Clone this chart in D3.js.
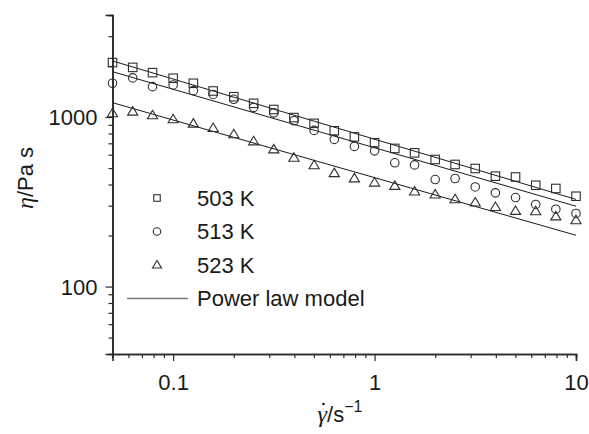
<!DOCTYPE html>
<html>
<head>
<meta charset="utf-8">
<script src="https://cdn.jsdelivr.net/npm/d3@7"></script>
<style>
  html, body { margin: 0; padding: 0; background: #fff; }
  svg { display: block; }
  text { font-family: "Liberation Sans", Arial, Helvetica, sans-serif; fill: #1a1a1a; }
</style>
</head>
<body>
<svg id="chart" width="589" height="434"></svg>
<script>
// ---- data ----
const shearRate = [0.05, 0.063, 0.079, 0.1, 0.126, 0.158, 0.2, 0.251, 0.316, 0.398, 0.501, 0.631, 0.794, 1, 1.26, 1.58, 2, 2.51, 3.16, 3.98, 5.01, 6.31, 7.94, 10];
const eta503 = [2096, 1963, 1828, 1694, 1582, 1425, 1318, 1205, 1108, 993, 918, 830, 764, 705, 653, 615, 562, 525, 497, 448, 443, 396, 379, 341];
const eta513 = [1583, 1702, 1511, 1546, 1431, 1359, 1273, 1141, 1059, 951, 834, 738, 671, 632, 537, 522, 428, 434, 387, 357, 335, 305, 286, 270];
const eta523 = [1052, 1075, 1023, 969, 913, 861, 791, 718, 644, 575, 519, 466, 434, 410, 392, 363, 349, 327, 313, 294, 279, 278, 259, 246];
const seriesLabels = ["503 K", "513 K", "523 K"];
const seriesMarkers = ["square", "circle", "triangle"];
// power law model: eta = K * rate^(n-1)
const modelK = [740, 659, 439];
const modelExp = [-0.355, -0.345, -0.340];
const modelLabel = "Power law model";
const xDomain = [0.05, 10];
const yDomain = [40, 4000];
const xMajorTicks = [0.1, 1, 10];
const xTickLabels = ["0.1", "1", "10"];
const yMajorTicks = [100, 1000];
const yTickLabels = ["100", "1000"];

(function () {
// ---- layout ----
const svg = d3.select("#chart");
const mLeft = 112.5, mRight = 576, mTop = 15, mBottom = 354;
const x = d3.scaleLog().domain(xDomain).range([mLeft, mRight]);
const y = d3.scaleLog().domain(yDomain).range([mBottom, mTop]);
const ink = "#2a2a2a";

function minorTicks(domain, majors) {
  const out = [];
  const lo = Math.floor(Math.log10(domain[0])), hi = Math.ceil(Math.log10(domain[1]));
  for (let e = lo; e < hi; e++) {
    for (let m = 1; m <= 9; m++) {
      const v = m * Math.pow(10, e);
      if (v >= domain[0] * 0.999 && v <= domain[1] * 1.001 && !majors.some(t => Math.abs(t - v) / v < 1e-6)) out.push(v);
    }
  }
  return out;
}

// power-law model lines
const series = [eta503, eta513, eta523];
series.forEach((vals, i) => {
  const pts = xDomain.map(r => [x(r), y(modelK[i] * Math.pow(r, modelExp[i]))]);
  svg.append("path")
    .attr("d", d3.line()(pts))
    .attr("fill", "none")
    .attr("stroke", "#1a1a1a")
    .attr("stroke-width", 1);
});

// marker shapes
function marker(g, type, cx, cy, s) {
  const stroke = "#2e2e2e", sw = 1.1;
  if (type === "square") {
    g.append("rect").attr("x", cx - s / 2).attr("y", cy - s / 2).attr("width", s).attr("height", s)
      .attr("fill", "none").attr("stroke", stroke).attr("stroke-width", sw);
  } else if (type === "circle") {
    g.append("circle").attr("cx", cx).attr("cy", cy).attr("r", s / 2)
      .attr("fill", "none").attr("stroke", stroke).attr("stroke-width", sw);
  } else {
    const w = s * 1.2, h = s * 1.0;
    const p = `M${cx},${cy - h * 0.6}L${cx + w / 2},${cy + h * 0.4}L${cx - w / 2},${cy + h * 0.4}Z`;
    g.append("path").attr("d", p).attr("fill", "none").attr("stroke", stroke).attr("stroke-width", sw);
  }
}

const gPts = svg.append("g");
series.forEach((vals, i) => {
  vals.forEach((v, j) => marker(gPts, seriesMarkers[i], x(shearRate[j]), y(v), 8.5));
});

// axes
svg.append("g").attr("transform", `translate(0,${mBottom})`)
  .call(d3.axisBottom(x).tickValues(minorTicks(xDomain, xMajorTicks)).tickSize(4).tickFormat(""));
const xMaj = svg.append("g").attr("transform", `translate(0,${mBottom})`)
  .call(d3.axisBottom(x).tickValues(xMajorTicks).tickSize(7).tickPadding(13)
    .tickFormat((d, i) => xTickLabels[i]));
svg.append("g").attr("transform", `translate(${mLeft},0)`)
  .call(d3.axisLeft(y).tickValues(minorTicks(yDomain, yMajorTicks)).tickSize(4).tickFormat(""));
const yMaj = svg.append("g").attr("transform", `translate(${mLeft},0)`)
  .call(d3.axisLeft(y).tickValues(yMajorTicks).tickSize(7).tickPadding(8)
    .tickFormat((d, i) => yTickLabels[i]));

svg.selectAll(".domain").attr("stroke", ink).attr("stroke-width", 1.6);
svg.selectAll(".tick line").attr("stroke", ink).attr("stroke-width", 1.2);
svg.selectAll(".tick text").attr("font-size", 22).attr("fill", "#1a1a1a")
  .attr("font-family", "'Liberation Sans', Arial, sans-serif");
xMaj.selectAll(".tick text").attr("dy", "0.71em");
yMaj.selectAll(".tick text").attr("dy", "0.36em");

// axis titles
const yTitle = svg.append("text")
  .attr("transform", "translate(33,178) rotate(-90)")
  .attr("text-anchor", "middle")
  .attr("font-size", 22);
yTitle.append("tspan").attr("font-family", "'Liberation Serif', 'DejaVu Serif', serif").attr("font-style", "italic").attr("font-size", 24).text("η");
yTitle.append("tspan").text("/Pa s");

const xTitle = svg.append("text")
  .attr("x", 340).attr("y", 422)
  .attr("text-anchor", "middle")
  .attr("font-size", 22);
xTitle.append("tspan").attr("font-family", "'Liberation Serif', 'DejaVu Serif', serif").attr("font-style", "italic").attr("font-size", 24).text("γ");
xTitle.append("tspan").text("/s");
xTitle.append("tspan").attr("font-size", 16).attr("dy", -10).text("\u22121");
// dot above gamma (time derivative)
const gb = xTitle.node().getExtentOfChar(0);
svg.append("circle")
  .attr("cx", gb.x + gb.width * 0.62).attr("cy", 404)
  .attr("r", 1.3).attr("fill", "#1a1a1a");

// legend
const legend = svg.append("g");
const legY = [198, 231.5, 265];
seriesLabels.forEach((lab, i) => {
  const s = i === 0 ? 6.5 : 7.5;
  marker(legend, seriesMarkers[i], 157, legY[i], s);
  legend.append("text").attr("x", 197).attr("y", legY[i] + 7.5).attr("font-size", 22).text(lab);
});
legend.append("line").attr("x1", 127).attr("x2", 188).attr("y1", 298.5).attr("y2", 298.5)
  .attr("stroke", "#777").attr("stroke-width", 1.4);
legend.append("text").attr("x", 197).attr("y", 306).attr("font-size", 22).text(modelLabel);
})();
</script>
</body>
</html>
